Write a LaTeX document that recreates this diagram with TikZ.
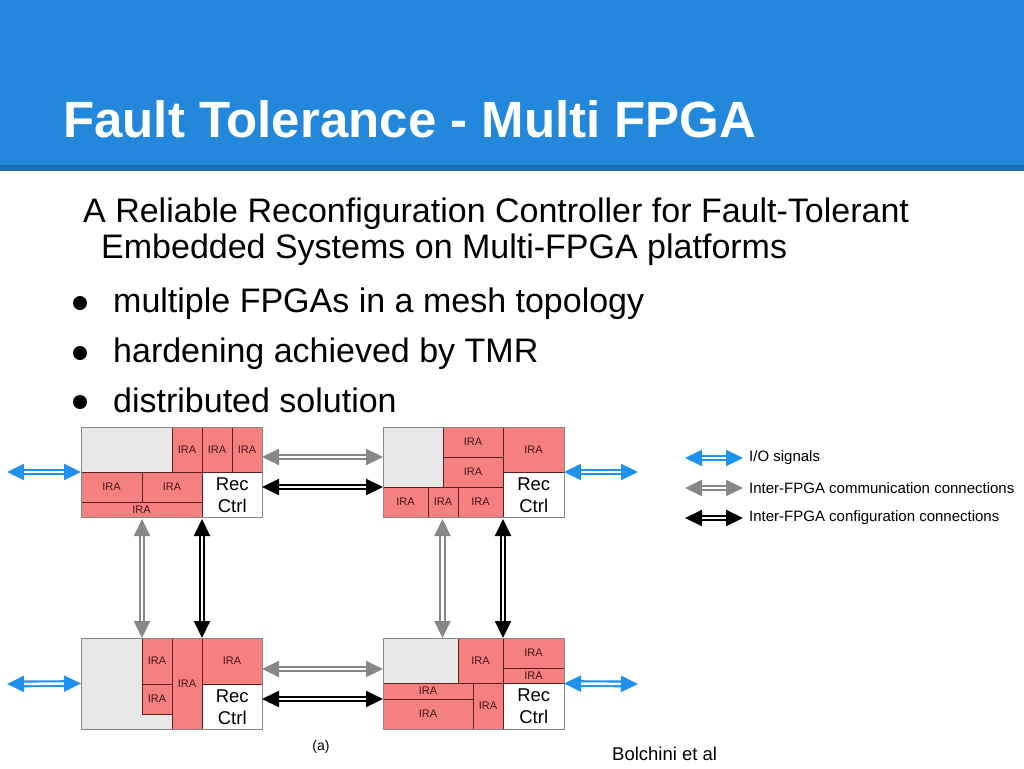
\documentclass[tikz,border=0pt]{standalone}
\usepackage{fontspec}
\setmainfont{Liberation Sans}
\usetikzlibrary{arrows.meta}
\definecolor{headblue}{RGB}{35,135,219}
\definecolor{headdark}{RGB}{30,108,178}
\definecolor{irafill}{RGB}{245,128,128}
\definecolor{iraline}{RGB}{95,30,30}
\definecolor{iratext}{RGB}{70,20,20}
\definecolor{freegray}{RGB}{232,232,232}
\definecolor{blockline}{RGB}{135,135,135}
\definecolor{iob}{RGB}{30,144,240}
\definecolor{commgray}{RGB}{135,135,135}
\newcommand{\fpgarect}[7]{\node[#1, anchor=north west, outer sep=0pt, inner sep=0pt, minimum width={(#5-#3)*1pt}, minimum height={(#6-#4)*1pt}] (#2) at (#3,#4) {#7};}
\tikzset{
  ira/.style={draw=iraline, fill=irafill, line width=0.9pt, text=iratext, font=\fontsize{11}{11}\selectfont},
  freearea/.style={fill=freegray},
  recctrl/.style={fill=white, align=center, font=\fontsize{18.5}{22}\selectfont},
  block/.style={draw=blockline, line width=1pt},
  dblarrow/.style={double=white, double distance=2.6pt, line width=2.1pt, {Triangle[length=17pt,width=16pt]}-{Triangle[length=17pt,width=16pt]}},
  ioarrow/.style={dblarrow, draw=iob},
  commarrow/.style={dblarrow, draw=commgray},
  cfgarrow/.style={dblarrow, draw=black},
  bodytext/.style={anchor=base west, inner sep=0pt, font=\fontsize{34}{40}\selectfont},
  legendtext/.style={anchor=west, inner sep=0pt, font=\fontsize{15}{18}\selectfont},
  bulletdot/.style={circle, fill=black, inner sep=0pt, minimum size=14pt}
}
\begin{document}
\begin{tikzpicture}[x=1pt,y=-1pt]
\useasboundingbox (0,0) rectangle (1024,768);
\fill[white] (0,0) rectangle (1024,768);
% header
\fill[headblue] (0,0) rectangle (1024,165);
\fill[headdark] (0,165) rectangle (1024,171);
\node[anchor=base west, inner sep=0pt, text=white, font=\bfseries\fontsize{51}{60}\selectfont] (title) at (63,137) {Fault Tolerance - Multi FPGA};
% body text
\node[bodytext] (l1) at (83,222) {A Reliable Reconfiguration Controller for Fault-Tolerant};
\node[bodytext] (l2) at (101,258) {Embedded Systems on Multi-FPGA platforms};
\node[bulletdot] (b1) at (80,303) {};
\node[bulletdot] (b2) at (80,353) {};
\node[bulletdot] (b3) at (80,402) {};
\node[bodytext] (t1) at (113,312) {multiple FPGAs in a mesh topology};
\node[bodytext] (t2) at (113,362) {hardening achieved by TMR};
\node[bodytext] (t3) at (113,412) {distributed solution};
% FPGA top-left
\fpgarect{freearea}{tlfree}{81}{427}{172}{472}{}
\fpgarect{ira}{tla}{172}{427}{202}{472}{IRA}
\fpgarect{ira}{tlb}{202}{427}{232}{472}{IRA}
\fpgarect{ira}{tlc}{232}{427}{262}{472}{IRA}
\fpgarect{ira}{tld}{81}{472}{142}{502}{IRA}
\fpgarect{ira}{tle}{142}{472}{202}{502}{IRA}
\fpgarect{ira}{tlf}{81}{502}{202}{517}{IRA}
\fpgarect{recctrl}{tlrec}{202.5}{472.5}{262}{517}{Rec\\Ctrl}
\fpgarect{block}{tl}{81}{427}{262}{517}{}
% FPGA top-right
\fpgarect{freearea}{trfree}{383}{427}{443}{487}{}
\fpgarect{ira}{tra}{443}{427}{503}{457}{IRA}
\fpgarect{ira}{trb}{443}{457}{503}{487}{IRA}
\fpgarect{ira}{trc}{503}{427}{564}{472}{IRA}
\fpgarect{ira}{trd}{383}{487}{428}{517}{IRA}
\fpgarect{ira}{tre}{428}{487}{458}{517}{IRA}
\fpgarect{ira}{trf}{458}{487}{503}{517}{IRA}
\fpgarect{recctrl}{trrec}{503.5}{472.5}{564}{517}{Rec\\Ctrl}
\fpgarect{block}{tr}{383}{427}{564}{517}{}
% FPGA bottom-left
\fpgarect{freearea}{blfree}{81}{638}{262}{729}{}
\fpgarect{ira}{bla}{142}{638}{172}{684}{IRA}
\fpgarect{ira}{blb}{142}{684}{172}{714}{IRA}
\fpgarect{ira}{blc}{172}{638}{202}{729}{IRA}
\fpgarect{ira}{bld}{202}{638}{262}{684}{IRA}
\fpgarect{recctrl}{blrec}{202.5}{684.5}{262}{729}{Rec\\Ctrl}
\fpgarect{block}{bl}{81}{638}{262}{729}{}
% FPGA bottom-right
\fpgarect{freearea}{brfree}{383}{638}{458}{683}{}
\fpgarect{ira}{bra}{458}{638}{503}{683}{IRA}
\fpgarect{ira}{brb}{503}{638}{564}{668}{IRA}
\fpgarect{ira}{brc}{503}{668}{564}{683}{IRA}
\fpgarect{ira}{brd}{383}{683}{473}{699}{IRA}
\fpgarect{ira}{bre}{383}{699}{473}{729}{IRA}
\fpgarect{ira}{brf}{473}{683}{503}{729}{IRA}
\fpgarect{recctrl}{brrec}{503.5}{683.5}{564}{729}{Rec\\Ctrl}
\fpgarect{block}{br}{383}{638}{564}{729}{}
% I/O arrows
\coordinate (ioTL) at (7,472);
\coordinate (ioTR) at (638,472);
\coordinate (ioBL) at (7,684);
\coordinate (ioBR) at (638,684);
\draw[ioarrow] (ioTL) -- (tl.west);
\draw[ioarrow] (tr.east) -- (ioTR);
\draw[ioarrow] (ioBL) -- (bl.west);
\draw[ioarrow] (br.east) -- (ioBR);
% horizontal inter-FPGA
\draw[commarrow] ([yshift=15pt]tl.east) -- ([yshift=15pt]tr.west);
\draw[cfgarrow] ([yshift=-15pt]tl.east) -- ([yshift=-15pt]tr.west);
\draw[commarrow] ([yshift=14.5pt]bl.east) -- ([yshift=14.5pt]br.west);
\draw[cfgarrow] ([yshift=-15.5pt]bl.east) -- ([yshift=-15.5pt]br.west);
% vertical inter-FPGA
\draw[commarrow] ([xshift=-29.5pt,yshift=-2pt]tl.south) -- ([xshift=-29.5pt]bl.north);
\draw[cfgarrow] ([xshift=30.5pt,yshift=-2pt]tl.south) -- ([xshift=30.5pt]bl.north);
\draw[commarrow] ([xshift=-31pt,yshift=-2pt]tr.south) -- ([xshift=-31pt]br.north);
\draw[cfgarrow] ([xshift=29.5pt,yshift=-2pt]tr.south) -- ([xshift=29.5pt]br.north);
% legend
\node[legendtext] (lg1) at (749,458) {I/O signals};
\node[legendtext] (lg2) at (749,488) {Inter-FPGA communication connections};
\node[legendtext] (lg3) at (749,518) {Inter-FPGA configuration connections};
\coordinate (lga) at (685,458);
\coordinate (lgb) at (685,488);
\coordinate (lgc) at (685,518);
\draw[ioarrow] (lga) -- ([xshift=-6pt]lg1.west);
\draw[commarrow] (lgb) -- ([xshift=-6pt]lg2.west);
\draw[cfgarrow] (lgc) -- ([xshift=-6pt]lg3.west);
% captions
\node[inner sep=0pt, font=\fontsize{14}{16}\selectfont] (cap) at (321,747) {(a)};
\node[anchor=base west, inner sep=0pt, font=\fontsize{18.5}{22}\selectfont] (cite) at (612,760) {Bolchini et al};
\end{tikzpicture}
\end{document}
